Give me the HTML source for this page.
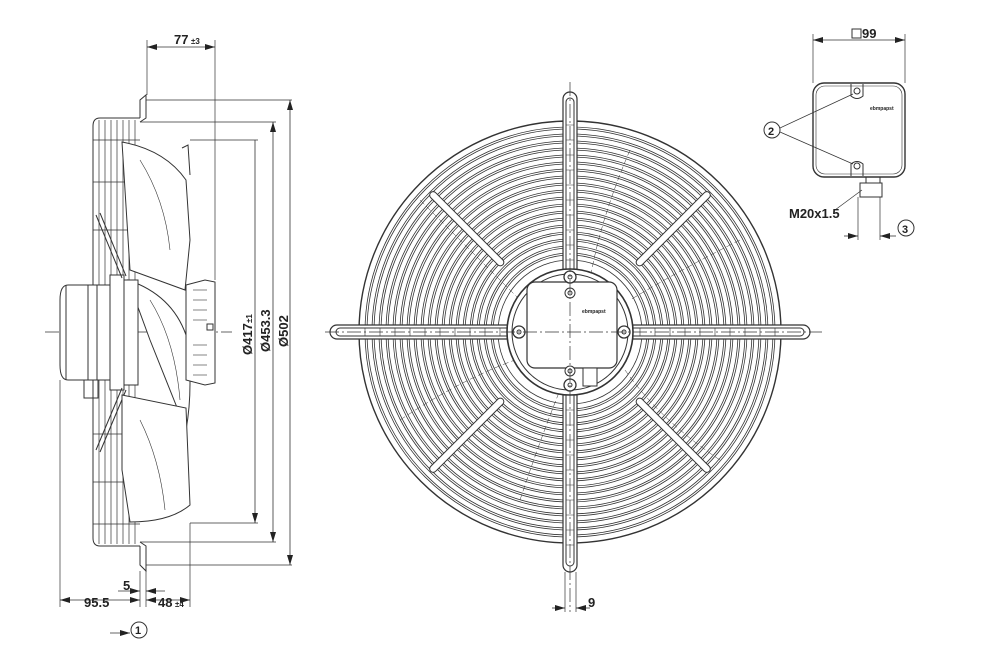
<!DOCTYPE html>
<html><head><meta charset="utf-8"><style>
html,body{margin:0;padding:0;background:#fff;}
svg{display:block;font-family:"Liberation Sans",sans-serif;}
</style></head><body>
<svg width="1000" height="654" viewBox="0 0 1000 654" xmlns="http://www.w3.org/2000/svg">
<defs>
<marker id="a" viewBox="0 0 10 6" refX="10" refY="3" markerWidth="10" markerHeight="6" orient="auto-start-reverse" markerUnits="userSpaceOnUse"><path d="M0,0 L10,3 L0,6 z" fill="#222"/></marker>
</defs>
<g fill="none" stroke="#333" stroke-width="1">
<!-- ===== SIDE VIEW ===== -->
<line x1="45" y1="332" x2="232" y2="332" stroke-dasharray="14,3,2,3" stroke-width="0.8"/>
<path d="M140,118 L100,118 Q93,118 93,126 L93,538 Q93,546 100,546 L140,546"/>
<g stroke-width="0.7">
<line x1="99" y1="120" x2="99" y2="544"/><line x1="105" y1="120" x2="105" y2="544"/>
<line x1="111" y1="120" x2="111" y2="544"/><line x1="117" y1="120" x2="117" y2="544"/>
<line x1="123" y1="120" x2="123" y2="544"/><line x1="129" y1="120" x2="129" y2="544"/>
<line x1="135" y1="120" x2="135" y2="544"/>
<line x1="93" y1="140" x2="140" y2="140"/><line x1="93" y1="182" x2="140" y2="182"/>
<line x1="93" y1="230" x2="140" y2="230"/><line x1="93" y1="434" x2="140" y2="434"/>
<line x1="93" y1="482" x2="140" y2="482"/><line x1="93" y1="524" x2="140" y2="524"/>
</g>
<path d="M140,118 L140,100 L146,95 L146,100 M146,100 L146,118 L140,122"/>
<path d="M140,546 L140,565 L146,571 L146,546 L140,542"/>
<line x1="146" y1="100" x2="292" y2="100" stroke-width="0.7"/>
<line x1="146" y1="565" x2="292" y2="565" stroke-width="0.7"/>
<line x1="140" y1="122" x2="276" y2="122" stroke-width="0.7"/>
<line x1="140" y1="542" x2="276" y2="542" stroke-width="0.7"/>
<line x1="190" y1="140" x2="258" y2="140" stroke-width="0.7"/>
<line x1="190" y1="523" x2="258" y2="523" stroke-width="0.7"/>
<path d="M110,285 L68,285 Q60,285 60,300 L60,365 Q60,380 68,380 L110,380 Z" fill="#fff"/>
<line x1="66" y1="285" x2="66" y2="380"/><line x1="88" y1="285" x2="88" y2="380"/><line x1="97" y1="285" x2="97" y2="380"/>
<rect x="84" y="380" width="14" height="18"/>
<rect x="110" y="275" width="14" height="115" fill="#fff"/>
<line x1="96" y1="215" x2="122" y2="278"/><line x1="100" y1="213" x2="126" y2="276"/>
<line x1="96" y1="450" x2="122" y2="388"/><line x1="100" y1="452" x2="126" y2="390"/>
<path d="M122,142 Q165,150 186,180 L190,240 L185,290 L130,270 Z" fill="#fff"/>
<path d="M128,280 Q172,295 186,335 Q194,385 186,430 L150,340 Z" fill="#fff"/>
<path d="M122,395 L186,408 L190,505 Q170,522 130,522 L122,470 Z" fill="#fff"/>
<path d="M140,160 Q165,200 170,250 M140,420 Q160,460 165,510 M150,300 Q175,340 180,400" stroke-width="0.6"/>
<path d="M182,148 L188,145 L190,175"/>
<rect x="124" y="280" width="14" height="105" fill="#fff"/>
<path d="M186,285 L205,280 L215,282 L215,383 L205,385 L186,380 Z" fill="#fff"/>
<g stroke-width="0.6"><line x1="193" y1="290" x2="207" y2="290"/><line x1="193" y1="300" x2="207" y2="300"/><line x1="193" y1="310" x2="207" y2="310"/><line x1="193" y1="320" x2="207" y2="320"/><line x1="193" y1="345" x2="207" y2="345"/><line x1="193" y1="355" x2="207" y2="355"/><line x1="193" y1="365" x2="207" y2="365"/><line x1="193" y1="375" x2="207" y2="375"/></g>
<rect x="207" y="324" width="6" height="6"/>
<line x1="147" y1="40" x2="147" y2="95" stroke-width="0.7"/>
<line x1="215" y1="40" x2="215" y2="280" stroke-width="0.7"/>
<line x1="147" y1="47" x2="215" y2="47" marker-start="url(#a)" marker-end="url(#a)" stroke-width="0.8"/>
<line x1="255" y1="140" x2="255" y2="523" marker-end="url(#a)" stroke-width="0.8"/>
<line x1="273" y1="122" x2="273" y2="542" marker-start="url(#a)" marker-end="url(#a)" stroke-width="0.8"/>
<line x1="290" y1="100" x2="290" y2="565" marker-start="url(#a)" marker-end="url(#a)" stroke-width="0.8"/>
<line x1="60" y1="380" x2="60" y2="607" stroke-width="0.7"/>
<line x1="140" y1="571" x2="140" y2="607" stroke-width="0.7"/>
<line x1="146" y1="571" x2="146" y2="607" stroke-width="0.7"/>
<line x1="190" y1="523" x2="190" y2="607" stroke-width="0.7"/>
<line x1="60" y1="600" x2="140" y2="600" marker-start="url(#a)" marker-end="url(#a)" stroke-width="0.8"/>
<line x1="146" y1="600" x2="190" y2="600" marker-start="url(#a)" marker-end="url(#a)" stroke-width="0.8"/>
<line x1="118" y1="591" x2="140" y2="591" marker-end="url(#a)" stroke-width="0.8"/>
<line x1="165" y1="591" x2="146" y2="591" marker-end="url(#a)" stroke-width="0.8"/>
<line x1="110" y1="633" x2="130" y2="633" marker-end="url(#a)" stroke-width="0.8"/>
<circle cx="139" cy="630" r="8"/>

<!-- ===== FRONT VIEW ===== -->
<g stroke-width="0.8">
<circle cx="570" cy="332" r="211" stroke-width="1.4"/>
<circle cx="570" cy="332" r="205"/><circle cx="570" cy="332" r="203"/>
<circle cx="570" cy="332" r="198"/><circle cx="570" cy="332" r="196"/>
<circle cx="570" cy="332" r="191"/><circle cx="570" cy="332" r="189"/>
<circle cx="570" cy="332" r="184"/><circle cx="570" cy="332" r="182"/>
<circle cx="570" cy="332" r="177"/><circle cx="570" cy="332" r="175"/>
<circle cx="570" cy="332" r="170"/><circle cx="570" cy="332" r="168"/>
<circle cx="570" cy="332" r="163"/><circle cx="570" cy="332" r="161"/>
<circle cx="570" cy="332" r="156"/><circle cx="570" cy="332" r="154"/>
<circle cx="570" cy="332" r="149"/><circle cx="570" cy="332" r="147"/>
<circle cx="570" cy="332" r="142"/><circle cx="570" cy="332" r="140"/>
<circle cx="570" cy="332" r="135"/><circle cx="570" cy="332" r="133"/>
<circle cx="570" cy="332" r="128"/><circle cx="570" cy="332" r="126"/>
<circle cx="570" cy="332" r="121"/><circle cx="570" cy="332" r="119"/>
<circle cx="570" cy="332" r="114"/><circle cx="570" cy="332" r="112"/>
<circle cx="570" cy="332" r="107"/><circle cx="570" cy="332" r="105"/>
<circle cx="570" cy="332" r="100"/><circle cx="570" cy="332" r="98"/>
<circle cx="570" cy="332" r="93"/><circle cx="570" cy="332" r="91"/>
<circle cx="570" cy="332" r="86"/><circle cx="570" cy="332" r="84"/>
<circle cx="570" cy="332" r="79"/><circle cx="570" cy="332" r="77"/>
<circle cx="570" cy="332" r="72"/>
</g>
<g stroke-width="0.5" stroke-dasharray="6,3">
<path d="M630,150 Q600,220 590,280"/><path d="M740,240 Q680,270 630,300"/>
<path d="M720,460 Q660,420 625,370"/><path d="M520,500 Q540,440 560,390"/>
<path d="M400,420 Q460,380 515,360"/><path d="M420,200 Q480,260 520,300"/>
</g>
<g stroke-width="1">
<g transform="rotate(45 570 332)"><rect x="665" y="328.5" width="102" height="7" rx="3.5" fill="#fff"/></g>
<g transform="rotate(135 570 332)"><rect x="665" y="328.5" width="102" height="7" rx="3.5" fill="#fff"/></g>
<g transform="rotate(225 570 332)"><rect x="665" y="328.5" width="102" height="7" rx="3.5" fill="#fff"/></g>
<g transform="rotate(315 570 332)"><rect x="665" y="328.5" width="102" height="7" rx="3.5" fill="#fff"/></g>
</g>
<rect x="563" y="92" width="14" height="480" rx="7" fill="#fff" stroke-width="1.2"/>
<rect x="566" y="98" width="8" height="468" rx="4"/>
<rect x="330" y="325" width="480" height="14" rx="7" fill="#fff" stroke-width="1.2"/>
<rect x="336" y="328" width="468" height="8" rx="4"/>
<g stroke-width="0.6">
<path d="M566,125 H574 M566,140 H574 M566,155 H574 M566,170 H574 M566,185 H574 M566,200 H574 M566,215 H574 M566,230 H574 M566,245 H574 M566,260 H574 M566,410 H574 M566,425 H574 M566,440 H574 M566,455 H574 M566,470 H574 M566,485 H574 M566,500 H574 M566,515 H574 M566,530 H574 M566,545 H574"/>
<path d="M365,328 V336 M380,328 V336 M395,328 V336 M410,328 V336 M425,328 V336 M440,328 V336 M455,328 V336 M470,328 V336 M485,328 V336 M500,328 V336 M640,328 V336 M655,328 V336 M670,328 V336 M685,328 V336 M700,328 V336 M715,328 V336 M730,328 V336 M745,328 V336 M760,328 V336 M775,328 V336"/>
</g>
<circle cx="570" cy="332" r="63" fill="#fff" stroke-width="1.6"/>
<circle cx="570" cy="332" r="58"/>
<rect x="527" y="282" width="90" height="86" rx="8" fill="#fff" stroke-width="1.2"/>
<rect x="583" y="368" width="14" height="18" fill="#fff"/>
<circle cx="570" cy="277" r="6" fill="#fff" stroke-width="1.3"/><circle cx="570" cy="277" r="2"/>
<circle cx="570" cy="293" r="5" fill="#fff"/><circle cx="570" cy="293" r="2"/>
<circle cx="570" cy="371" r="5" fill="#fff"/><circle cx="570" cy="371" r="2"/>
<circle cx="570" cy="385" r="6" fill="#fff" stroke-width="1.3"/><circle cx="570" cy="385" r="2"/>
<circle cx="519" cy="332" r="6" fill="#fff" stroke-width="1.3"/><circle cx="519" cy="332" r="2"/>
<circle cx="624" cy="332" r="6" fill="#fff" stroke-width="1.3"/><circle cx="624" cy="332" r="2"/>
<line x1="325" y1="332" x2="822" y2="332" stroke-dasharray="14,3,2,3" stroke-width="0.7"/>
<line x1="570" y1="82" x2="570" y2="612" stroke-dasharray="14,3,2,3" stroke-width="0.7"/>
<line x1="565" y1="572" x2="565" y2="612" stroke-width="0.7"/>
<line x1="576" y1="572" x2="576" y2="612" stroke-width="0.7"/>
<line x1="552" y1="608" x2="565" y2="608" marker-end="url(#a)" stroke-width="0.8"/>
<line x1="590" y1="608" x2="576" y2="608" marker-end="url(#a)" stroke-width="0.8"/>

<!-- ===== TERMINAL BOX ===== -->
<rect x="813" y="83" width="92" height="94" rx="11" stroke-width="1.4"/>
<rect x="816" y="86" width="86" height="88" rx="9" stroke-width="0.6"/>
<path d="M851,84 V96 Q857,101 863,96 V84"/><circle cx="857" cy="91" r="3"/>
<path d="M851,176 V164 Q857,159 863,164 V176"/><circle cx="857" cy="166" r="3"/>
<rect x="866" y="177" width="14" height="6"/>
<rect x="860" y="183" width="22" height="14"/>
<line x1="858" y1="197" x2="858" y2="240" stroke-width="0.7"/>
<line x1="880" y1="197" x2="880" y2="240" stroke-width="0.7"/>
<line x1="844" y1="236" x2="858" y2="236" marker-end="url(#a)" stroke-width="0.8"/>
<line x1="896" y1="236" x2="880" y2="236" marker-end="url(#a)" stroke-width="0.8"/>
<line x1="813" y1="34" x2="813" y2="83" stroke-width="0.7"/>
<line x1="905" y1="34" x2="905" y2="83" stroke-width="0.7"/>
<line x1="813" y1="40" x2="905" y2="40" marker-start="url(#a)" marker-end="url(#a)" stroke-width="0.8"/>
<circle cx="772" cy="130" r="8"/>
<line x1="780" y1="128" x2="853" y2="94" stroke-width="0.7"/>
<line x1="780" y1="132" x2="853" y2="164" stroke-width="0.7"/>
<line x1="835" y1="210" x2="862" y2="190" stroke-width="0.7"/>
<circle cx="906" cy="228" r="8"/>
<rect x="852" y="29" width="9" height="9" stroke-width="1"/>
</g>
<g fill="#222" font-size="13" font-weight="bold">
<text x="174" y="44">77</text><text x="191" y="44" font-size="8">±3</text>
<text transform="translate(252,355) rotate(-90)">Ø417</text><text transform="translate(252,323) rotate(-90)" font-size="8">±1</text>
<text transform="translate(270,352) rotate(-90)">Ø453.3</text>
<text transform="translate(288,347) rotate(-90)">Ø502</text>
<text x="84" y="607">95.5</text>
<text x="123" y="590">5</text>
<text x="158" y="607">48</text><text x="175" y="607" font-size="8">±4</text>
<text x="135" y="634" font-size="11">1</text>
<text x="588" y="607">9</text>
<text x="862" y="38">99</text>
<text x="768" y="135" font-size="11">2</text>
<text x="789" y="218">M20x1.5</text>
<text x="902" y="233" font-size="11">3</text>
<text x="870" y="110" font-size="5">ebmpapst</text>
<text x="582" y="313" font-size="5">ebmpapst</text>
</g>
</svg>
</body></html>
